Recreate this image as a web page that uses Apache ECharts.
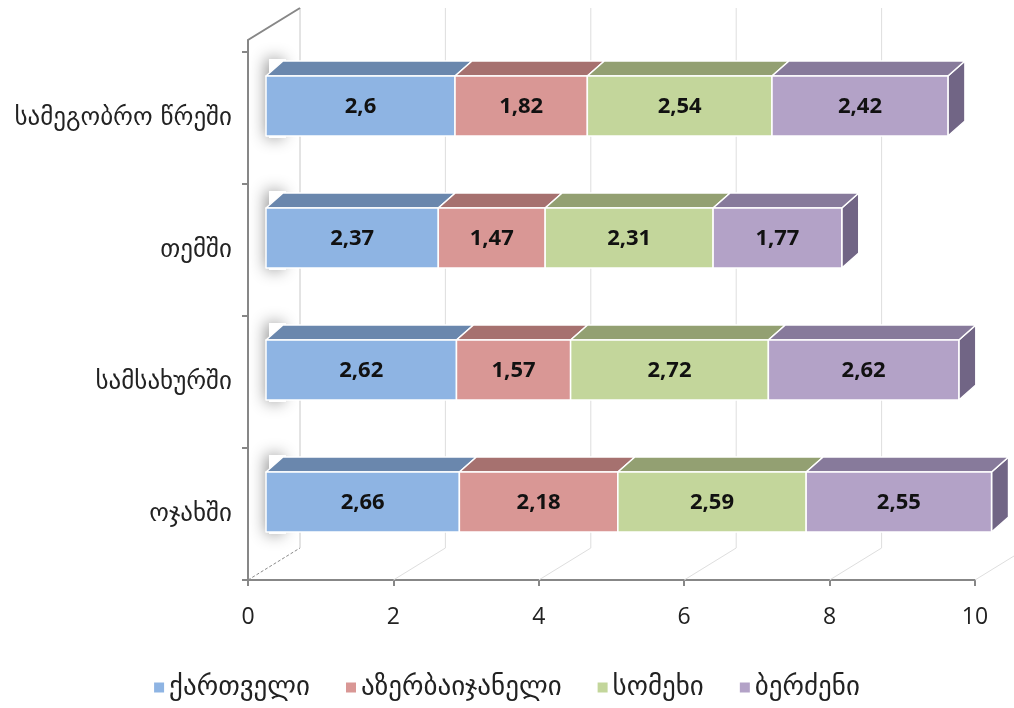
<!DOCTYPE html>
<html><head><meta charset="utf-8">
<script src="https://cdn.jsdelivr.net/npm/echarts@6/dist/echarts.min.js"></script>
<style>html,body{margin:0;padding:0;background:#fff}#c{width:1014px;height:708px}</style>
</head><body><div id="c"></div>
<script>
// ---- data ----
const categories = ['ოჯახში', 'სამსახურში', 'თემში', 'სამეგობრო წრეში'];
const seriesNames = ['ქართველი', 'აზერბაიჯანელი', 'სომეხი', 'ბერძენი'];
const kartveli = [2.66, 2.62, 2.37, 2.6];
const azerbaijaneli = [2.18, 1.57, 1.47, 1.82];
const somekhi = [2.59, 2.72, 2.31, 2.54];
const berdzeni = [2.55, 2.62, 1.77, 2.42];
const xTicks = [0, 2, 4, 6, 8, 10];

// ---- styles ----
const frontColors = ['#8EB4E3', '#D99795', '#C3D69B', '#B3A2C7'];
const topColors = ['#6A87AD', '#A6716F', '#93A072', '#877A9B'];
const sideColors = ['#5E789A', '#8E5F5E', '#7C8860', '#716585'];
const labelFont = 'Open Sans';
const geoFont = 'DejaVu Sans';

const values = [kartveli, azerbaijaneli, somekhi, berdzeni];
const OFF_X = 18, OFF_Y = -12;   // front face offset from axis plane
const DEP_X = 17, DEP_Y = -15;   // bar depth
const FLOOR_X = 52, FLOOR_Y = -32; // floor depth
const BAR_H = 60;

function fmt(v) { return String(v).replace('.', ','); }

function barRender(si) {
  return function (params, api) {
    const idx = api.value(0), start = api.value(1), end = api.value(2), v = api.value(3);
    const p0 = api.coord([start, idx]);
    const p1 = api.coord([end, idx]);
    const x0 = p0[0] + OFF_X, x1 = p1[0] + OFF_X;
    const cy = p0[1] + OFF_Y;
    const yT = cy - BAR_H / 2, yB = cy + BAR_H / 2;
    const st = { stroke: '#fff', lineWidth: 1.5, lineJoin: 'round' };
    const children = [];
    if (si === 0) {
      // soft shadow cast on the side wall
      children.push({ type: 'rect', z2: -5,
        shape: { x: x0 + 3, y: yT + DEP_Y - 2, width: DEP_X, height: BAR_H - DEP_Y + 4 },
        style: { fill: '#fff', shadowBlur: 16, shadowColor: 'rgba(0,0,0,0.45)', shadowOffsetX: -3, shadowOffsetY: 0 } });
    }
    children.push(
      { type: 'polygon', shape: { points: [[x1, yT], [x1 + DEP_X, yT + DEP_Y], [x1 + DEP_X, yB + DEP_Y], [x1, yB]] },
        style: Object.assign({ fill: sideColors[si] }, st) },
      { type: 'polygon', shape: { points: [[x0, yT], [x1, yT], [x1 + DEP_X, yT + DEP_Y], [x0 + DEP_X, yT + DEP_Y]] },
        style: Object.assign({ fill: topColors[si] }, st) },
      { type: 'rect', shape: { x: x0, y: yT, width: x1 - x0, height: BAR_H },
        style: Object.assign({ fill: frontColors[si] }, st) },
      { type: 'text', z2: 10, style: { text: fmt(v), x: (x0 + x1) / 2, y: cy + 1, align: 'center', verticalAlign: 'middle',
        fill: '#111', font: 'bold 22px "' + labelFont + '"' } }
    );
    return { type: 'group', children: children };
  };
}

function frameRender(params, api) {
  const t = api.value(0);
  const band = api.size([0, 1])[1];
  const pb = api.coord([t, 0]);
  const pt = api.coord([t, categories.length - 1]);
  const x = pb[0], yb = pb[1] + band / 2, yt = pt[1] - band / 2;
  const children = [];
  const light = '#DEDEDE';
  if (t === 0) {
    children.push({ type: 'line', shape: { x1: x, y1: yb, x2: x + FLOOR_X, y2: yb + FLOOR_Y },
      style: { stroke: '#8a8a8a', lineWidth: 1, lineDash: [3, 2] } });
    children.push({ type: 'line', shape: { x1: x + FLOOR_X, y1: yb + FLOOR_Y, x2: x + FLOOR_X, y2: yt - 12 + FLOOR_Y },
      style: { stroke: '#C8C8C8', lineWidth: 1 } });
    children.push({ type: 'polyline', shape: { points: [[x, yt], [x, yt - 12], [x + FLOOR_X, yt - 12 + FLOOR_Y]] },
      style: { stroke: '#878787', lineWidth: 2, fill: null } });
  } else {
    children.push({ type: 'line', shape: { x1: x, y1: yb, x2: x + FLOOR_X, y2: yb + FLOOR_Y },
      style: { stroke: light, lineWidth: 1 } });
    children.push({ type: 'line', shape: { x1: x + FLOOR_X, y1: yb + FLOOR_Y, x2: x + FLOOR_X, y2: yt - 12 + FLOOR_Y },
      style: { stroke: light, lineWidth: 1 } });
  }
  return { type: 'group', children: children };
}

const series = [{
  type: 'custom', name: 'frame', silent: true, z: 1,
  renderItem: frameRender,
  data: xTicks.map(t => [t, 0]),
  encode: { x: 0, y: 1 }
}];
values.forEach((arr, si) => {
  const data = arr.map((v, i) => {
    let s = 0;
    for (let k = 0; k < si; k++) s += values[k][i];
    return [i, s, s + v, v];
  });
  series.push({
    type: 'custom', name: seriesNames[si], z: 2 + si,
    itemStyle: { color: frontColors[si] },
    renderItem: barRender(si),
    data: data,
    encode: { x: [1, 2], y: 0 }
  });
});

const chart = echarts.init(document.getElementById('c'), null, { renderer: 'canvas' });
chart.setOption({
  backgroundColor: '#fff',
  animation: false,
  grid: { left: 248, right: 39, top: 52, bottom: 128, containLabel: false },
  xAxis: {
    type: 'value', min: 0, max: 10, interval: 2,
    axisLine: { show: true, lineStyle: { color: '#878787', width: 2 } },
    axisTick: { show: true, length: 6, lineStyle: { color: '#878787', width: 2 } },
    splitLine: { show: false },
    axisLabel: { fontSize: 23, color: '#222', margin: 26, fontFamily: labelFont }
  },
  yAxis: {
    type: 'category', data: categories,
    axisLine: { show: true, lineStyle: { color: '#878787', width: 2 } },
    axisTick: { show: true, length: 6, lineStyle: { color: '#878787', width: 2 } },
    splitLine: { show: false },
    axisLabel: { fontSize: 25, color: '#222', margin: 16, fontFamily: geoFont }
  },
  legend: {
    data: seriesNames, bottom: 2, left: 'center', icon: 'rect', itemWidth: 10, itemHeight: 10, itemGap: 36,
    textStyle: { fontSize: 27, color: '#222', fontFamily: geoFont }
  },
  series: series
});
</script>
</body></html>
